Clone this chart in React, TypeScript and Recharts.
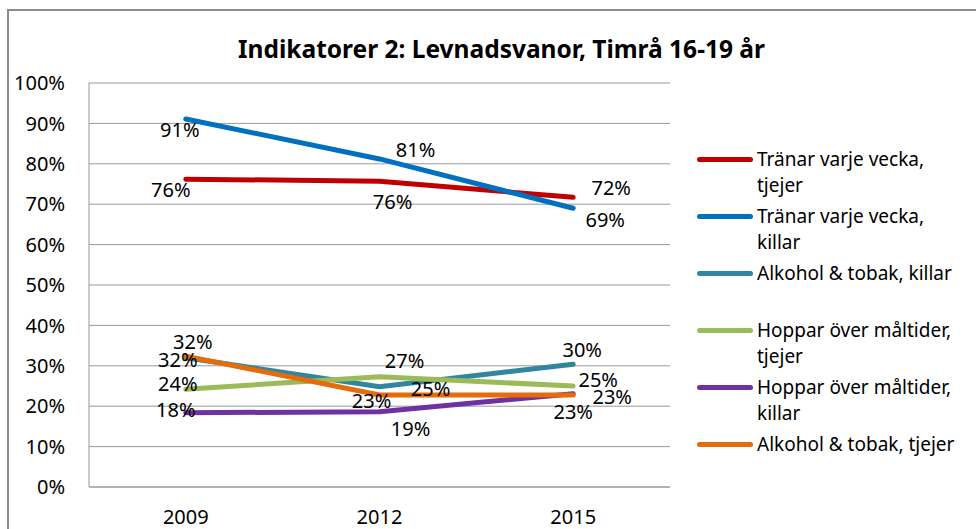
import React from 'react';
import { LineChart, Line, XAxis, YAxis, CartesianGrid, Legend, LabelList } from 'recharts';

const years = ['2009', '2012', '2015'];
const tranarTjejer = [76.2, 75.7, 71.7];
const tranarKillar = [91.1, 81.2, 69.0];
const alkoholKillar = [32.0, 24.8, 30.4];
const hopparTjejer = [24.2, 27.3, 25.0];
const hopparKillar = [18.4, 18.6, 23.1];
const alkoholTjejer = [32.4, 22.8, 22.8];
const yTicks = [0, 10, 20, 30, 40, 50, 60, 70, 80, 90, 100];

const series = [
  { key: 'tranarTjejer', name: 'Tränar varje vecka, tjejer', values: tranarTjejer, color: '#C00000' },
  { key: 'tranarKillar', name: 'Tränar varje vecka, killar', values: tranarKillar, color: '#0070C0' },
  { key: 'alkoholKillar', name: 'Alkohol & tobak, killar', values: alkoholKillar, color: '#31859C' },
  { key: 'hopparTjejer', name: 'Hoppar över måltider, tjejer', values: hopparTjejer, color: '#9BBB59' },
  { key: 'hopparKillar', name: 'Hoppar över måltider, killar', values: hopparKillar, color: '#7030A0' },
  { key: 'alkoholTjejer', name: 'Alkohol & tobak, tjejer', values: alkoholTjejer, color: '#E46C0A' },
];

// label placement offsets (px) relative to each point, per series
const labelOffsets: Record<string, [number, number][]> = {
  tranarTjejer: [[-15, 10], [13, 20], [38, -10]],
  tranarKillar: [[-6, 11], [36, -9], [32, 11]],
  alkoholKillar: [[-8, 2], [51, 2], [9, -15]],
  hopparTjejer: [[-8, -6], [25, -16], [25, -7]],
  hopparKillar: [[-10, -3], [31, 17], [0, 18]],
  alkoholTjejer: [[7, -15], [-8, 6], [39, 2]],
};

const data = years.map((year, i) => {
  const row: Record<string, any> = { year };
  series.forEach((s) => {
    row[s.key] = s.values[i];
  });
  return row;
});

const FONT = "'Noto Sans', sans-serif";

const makeLabel = (key: string) => (props: any) => {
  const px = props.x ?? props.viewBox?.x;
  const py = props.y ?? props.viewBox?.y;
  const index = props.index ?? 0;
  if (px == null || py == null || props.value == null) return null;
  const [dx, dy] = labelOffsets[key][index] ?? [0, 0];
  return (
    <text
      key={`${key}-${index}`}
      x={px + dx}
      y={py + dy}
      textAnchor="middle"
      dominantBaseline="central"
      fontSize={20}
      fill="#000"
      fontFamily={FONT}
    >
      {Math.round(Number(props.value))}%
    </text>
  );
};

const renderLegend = () => (
  <div style={{ fontFamily: FONT }}>
    {series.map((s) => (
      <div key={s.key} style={{ display: 'flex', alignItems: 'flex-start', height: 57 }}>
        <div
          style={{
            width: 56,
            height: 5,
            borderRadius: 3,
            background: s.color,
            marginTop: 11,
            marginRight: 4,
            flexShrink: 0,
          }}
        />
        <div style={{ fontSize: 19, lineHeight: '26px', width: 212, color: '#000' }}>{s.name}</div>
      </div>
    ))}
  </div>
);

export default function App() {
  return (
    <div>
      <div
        style={{
          position: 'absolute',
          left: 7,
          top: 9,
          width: 969,
          height: 520,
          boxSizing: 'border-box',
          borderLeft: '2px solid #8c8c8c',
          borderTop: '2px solid #8c8c8c',
        }}
      />
      <div
        style={{
          position: 'absolute',
          left: 27,
          width: 949,
          top: 34,
          textAlign: 'center',
          fontFamily: FONT,
          fontWeight: 700,
          fontSize: 24.5,
          lineHeight: '30px',
          color: '#000',
        }}
      >
        Indikatorer 2: Levnadsvanor, Timrå 16-19 år
      </div>
      <div style={{ position: 'absolute', left: 0, top: 0, width: 976, height: 529, fontFamily: FONT }}>
        <LineChart
          width={976}
          height={529}
          data={data}
          margin={{ top: 83, right: 306, bottom: 12, left: 0 }}
        >
          <CartesianGrid vertical={false} stroke="#999" strokeWidth={1} />
          <XAxis
            dataKey="year"
            height={30}
            padding={{ left: 96.8, right: 96.8 }}
            axisLine={{ stroke: '#999' }}
            tickLine={false}
            tickMargin={17}
            tick={{ fill: '#000', fontSize: 20, fontFamily: FONT }}
          />
          <YAxis
            width={89}
            domain={[0, 100]}
            ticks={yTicks}
            tickFormatter={(v: number) => `${v}%`}
            axisLine={{ stroke: '#999' }}
            tickLine={false}
            tickMargin={18}
            tick={{ fill: '#000', fontSize: 20, fontFamily: FONT }}
            interval={0}
          />
          <Legend
            layout="vertical"
            align="center"
            verticalAlign="middle"
            wrapperStyle={{ position: 'absolute', left: 697, top: 146, width: 279, height: 342 }}
            content={renderLegend}
          />
          {series.map((s) => (
            <Line
              key={s.key}
              type="linear"
              dataKey={s.key}
              name={s.name}
              stroke={s.color}
              strokeWidth={5}
              strokeLinecap="round"
              dot={false}
              activeDot={false}
              isAnimationActive={false}
            />
          ))}
          {series.map((s) => (
            <Line
              key={`${s.key}-labels`}
              type="linear"
              dataKey={s.key}
              stroke="none"
              strokeWidth={0}
              dot={false}
              activeDot={false}
              legendType="none"
              isAnimationActive={false}
            >
              <LabelList dataKey={s.key} content={makeLabel(s.key)} />
            </Line>
          ))}
        </LineChart>
      </div>
    </div>
  );
}
